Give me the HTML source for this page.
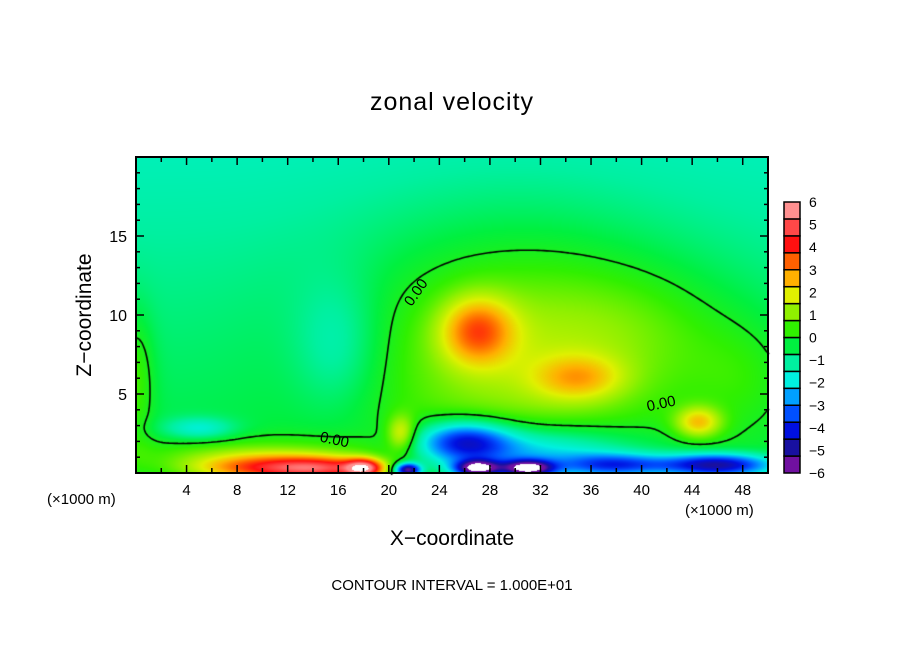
<!DOCTYPE html>
<html><head><meta charset="utf-8"><style>
body{margin:0;background:#fff;}
#wrap{position:relative;width:904px;height:654px;overflow:hidden;font-family:"Liberation Sans",sans-serif;}
.t{position:absolute;white-space:nowrap;color:#000;}
</style></head><body>
<div id="wrap">
<div class="t" style="left:0;width:904px;text-align:center;top:88px;font-size:25px;letter-spacing:1px;">zonal velocity</div>
<canvas id="cv" width="904" height="654" style="position:absolute;left:0;top:0"></canvas>
<svg id="ov" width="904" height="654" style="position:absolute;left:0;top:0"></svg>
<div class="t" style="left:85px;top:315px;font-size:21px;transform:translate(-50%,-50%) rotate(-90deg);">Z−coordinate</div>
<div class="t" style="left:0;width:904px;text-align:center;top:527px;font-size:21px;">X−coordinate</div>
<div class="t" style="left:47px;top:491px;font-size:15px;">(×1000 m)</div>
<div class="t" style="left:685px;top:502px;font-size:15px;">(×1000 m)</div>
<div class="t" style="left:0;width:904px;text-align:center;top:577px;font-size:15px;">CONTOUR INTERVAL = 1.000E+01</div>
</div>
<script>
const xTicks=[4,8,12,16,20,24,28,32,36,40,44,48];
const yTicks=[5,10,15];
const cbLevels=[-6,-5,-4,-3,-2,-1,0,1,2,3,4,5,6];
const cbColors=["#7010a0","#1810a0","#0010e0","#0050ff","#00a0ff","#00f0e0","#00f0a0","#00f040","#30f000","#90f000","#e0f000","#ffb000","#ff6000","#ff1010","#ff4848","#ff9090"];
// field components: [x(km), z(km), amplitude, sigmaX, sigmaZ]
const blobX=[30,27,35,44.5,40,16,5,10,15,18,0,21,26,27,31,21.5,31,46,38,10,48];
const blobZ=[8,9,6,3.2,9,8,2.8,0.3,0.3,0.3,6,2.5,2,0.3,0.3,0.2,1.2,0.5,0.5,1.2,6];
const blobA=[1.9,2.7,1.7,2.4,0.7,-1.0,-1.4,3.3,3.2,4.4,1.1,2,-3.5,-5.6,-5.6,-5.5,-2.6,-4.6,-3,1.1,0.6];
const blobSX=[9,2,2.5,1.3,6,2.5,2,4,3,1.0,1,0.8,2.5,1.2,1.4,0.7,6,3,3,8,3];
const blobSZ=[5.5,1.5,1,0.7,3,3,0.5,0.6,0.5,0.4,3,0.8,0.9,0.35,0.35,0.3,1.2,0.5,0.5,0.8,2.5];
const x0=136,x1=768,y0=157,y1=473,xmin=0,xmax=50,zmin=0,zmax=20;
const sx=v=>x0+(v-xmin)/(xmax-xmin)*(x1-x0);
const sy=v=>y1-(v-zmin)/(zmax-zmin)*(y1-y0);
function field(x,z){let v=-0.3-0.055*z;
 for(let i=0;i<blobX.length;i++){const dx=(x-blobX[i])/blobSX[i],dz=(z-blobZ[i])/blobSZ[i];v+=blobA[i]*Math.exp(-0.5*(dx*dx+dz*dz));}
 return v;}
function hex(h){return [parseInt(h.slice(1,3),16),parseInt(h.slice(3,5),16),parseInt(h.slice(5,7),16)];}
const cols=cbColors.map(hex);const NC=cols.length;
function color(v){if(v<-6.2||v>6.2)return [255,255,255];
 let p=(v+6)/12*NC-0.5;if(p<0)p=0;if(p>NC-1)p=NC-1;const i=Math.floor(p),f=p-i;const a=cols[i],b=cols[Math.min(i+1,NC-1)];
 return [a[0]+(b[0]-a[0])*f,a[1]+(b[1]-a[1])*f,a[2]+(b[2]-a[2])*f];}
const cv=document.getElementById('cv'),ctx=cv.getContext('2d');
const W=x1-x0,H=y1-y0;const img=ctx.createImageData(W,H);
for(let j=0;j<H;j++)for(let i=0;i<W;i++){const x=xmin+(i+0.5)/W*(xmax-xmin),z=zmax-(j+0.5)/H*(zmax-zmin);const c=color(field(x,z));const k=(j*W+i)*4;img.data[k]=c[0];img.data[k+1]=c[1];img.data[k+2]=c[2];img.data[k+3]=255;}
ctx.putImageData(img,x0,y0);
const G=3,nx=Math.ceil(W/G),ny=Math.ceil(H/G);const g=[];
for(let j=0;j<=ny;j++){g[j]=[];for(let i=0;i<=nx;i++){const x=xmin+Math.min(i*G,W)/W*(xmax-xmin),z=zmax-Math.min(j*G,H)/H*(zmax-zmin);g[j][i]=field(x,z);}}
ctx.strokeStyle="#000";ctx.lineWidth=1.6;ctx.beginPath();
function ip(a,b){return a/(a-b);}
for(let j=0;j<ny;j++)for(let i=0;i<nx;i++){const a=g[j][i],b=g[j][i+1],c=g[j+1][i+1],d=g[j+1][i];const pts=[];
 if((a>0)!=(b>0))pts.push([i+ip(a,b),j]);if((b>0)!=(c>0))pts.push([i+1,j+ip(b,c)]);if((c>0)!=(d>0))pts.push([i+1-ip(c,d),j+1]);if((d>0)!=(a>0))pts.push([i,j+1-ip(d,a)]);
 for(let k=0;k+1<pts.length;k+=2){ctx.moveTo(x0+pts[k][0]*G,y0+pts[k][1]*G);ctx.lineTo(x0+pts[k+1][0]*G,y0+pts[k+1][1]*G);}}
ctx.stroke();
const NS="http://www.w3.org/2000/svg",ov=document.getElementById('ov');
function mk(t,at,p){const e=document.createElementNS(NS,t);for(const k in at)e.setAttribute(k,at[k]);(p||ov).appendChild(e);return e;}
const lblX=[14.5,21.8,40.5];const lblZ=[2.0,10.5,3.9];const lblR=[12,-55,-12];
for(let i=0;i<lblX.length;i++){const t=mk('text',{x:sx(lblX[i]),y:sy(lblZ[i]),'font-size':15,'font-family':'Liberation Sans',transform:`rotate(${lblR[i]} ${sx(lblX[i])} ${sy(lblZ[i])})`});t.textContent="0.00";

}
const fr=mk('rect',{x:x0,y:y0,width:x1-x0,height:y1-y0,fill:'none',stroke:'#000','stroke-width':2});


for(let v=1;v<50;v++){const big=v%4==0;const L=big?8:(v%2==0?5:0);if(!L)continue;const X=sx(v);
 mk('line',{x1:X,x2:X,y1:y1,y2:y1-L,stroke:'#000','stroke-width':1.5});mk('line',{x1:X,x2:X,y1:y0,y2:y0+L,stroke:'#000','stroke-width':1.5});}
for(let v=1;v<20;v++){const L=v%5==0?8:4;const Y=sy(v);mk('line',{x1:x0,x2:x0+L,y1:Y,y2:Y,stroke:'#000','stroke-width':1.5});mk('line',{x1:x1,x2:x1-L,y1:Y,y2:Y,stroke:'#000','stroke-width':1.5});}
xTicks.forEach(v=>{const t=mk('text',{x:sx(v),y:495,'text-anchor':'middle','font-size':15,'font-family':'Liberation Sans'});t.textContent=v;

});
yTicks.forEach(v=>{const t=mk('text',{x:127,y:sy(v)+6,'text-anchor':'end','font-size':16,'font-family':'Liberation Sans'});t.textContent=v;

});
const cbTop=202,cbBot=473,cbX=784,cbW=16;const sh=(cbBot-cbTop)/NC;
for(let i=0;i<NC;i++){const r=mk('rect',{x:cbX,y:cbBot-(i+1)*sh,width:cbW,height:sh,fill:cbColors[i],stroke:'#000','stroke-width':1.5});

}
const lh=(cbBot-cbTop)/(cbLevels.length-1);
cbLevels.forEach((v,i)=>{const t=mk('text',{x:809,y:cbBot-i*lh+5,'font-size':14,'font-family':'Liberation Sans'});t.textContent=(v<0?'−':'')+Math.abs(v);

});
</script>
</body></html>
